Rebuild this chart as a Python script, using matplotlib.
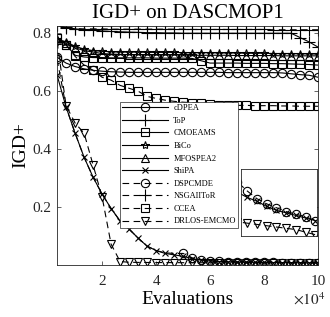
import numpy as np
import matplotlib
matplotlib.use('Agg')
import matplotlib.pyplot as plt

# Evaluations (x 10^4), 30 samples
evals = np.arange(1, 31) / 3.0

cdpea = [0.717, 0.697, 0.685, 0.677, 0.672, 0.669, 0.667, 0.666, 0.665, 0.665,
         0.665, 0.665, 0.665, 0.665, 0.665, 0.665, 0.665, 0.665, 0.665, 0.664,
         0.664, 0.664, 0.664, 0.664, 0.664, 0.663, 0.660, 0.657, 0.655, 0.648]
top = [0.828, 0.820, 0.815, 0.812, 0.810, 0.808, 0.806, 0.805, 0.804, 0.803,
       0.802, 0.802, 0.801, 0.801, 0.800, 0.800, 0.800, 0.800, 0.800, 0.800,
       0.800, 0.800, 0.800, 0.800, 0.800, 0.800, 0.800, 0.785, 0.770, 0.752]
cmoeams = [0.785, 0.760, 0.724, 0.718, 0.716, 0.716, 0.715, 0.715, 0.715, 0.715,
           0.715, 0.714, 0.714, 0.714, 0.714, 0.713, 0.705, 0.697, 0.697, 0.697,
           0.697, 0.696, 0.696, 0.696, 0.695, 0.695, 0.694, 0.693, 0.692, 0.690]
bico = [0.780, 0.770, 0.755, 0.745, 0.740, 0.738, 0.736, 0.735, 0.735, 0.735,
        0.734, 0.734, 0.734, 0.734, 0.733, 0.733, 0.733, 0.733, 0.732, 0.732,
        0.732, 0.731, 0.731, 0.731, 0.730, 0.730, 0.730, 0.729, 0.729, 0.728]
mfospea2 = [0.775, 0.765, 0.750, 0.740, 0.735, 0.730, 0.728, 0.727, 0.726, 0.726,
            0.725, 0.725, 0.725, 0.725, 0.725, 0.724, 0.724, 0.724, 0.724, 0.724,
            0.723, 0.723, 0.723, 0.723, 0.723, 0.722, 0.722, 0.722, 0.722, 0.722]
shipa = [0.655, 0.545, 0.455, 0.372, 0.303, 0.245, 0.195, 0.152, 0.124, 0.093,
         0.065, 0.050, 0.040, 0.035, 0.030, 0.022, 0.017, 0.014, 0.012, 0.011,
         0.0102, 0.0097, 0.0093, 0.0090, 0.0086, 0.0083, 0.0081, 0.0079, 0.0077, 0.0075]
dspcmde = [0.710, 0.545, 0.455, 0.372, 0.303, 0.245, 0.195, 0.152, 0.124, 0.093,
           0.065, 0.050, 0.042, 0.040, 0.040, 0.025, 0.018, 0.015, 0.013, 0.012,
           0.0110, 0.0105, 0.0098, 0.0092, 0.0088, 0.0085, 0.0082, 0.0080, 0.0078, 0.0075]
nsgaiitor = [0.828, 0.818, 0.816, 0.815, 0.815, 0.815, 0.814, 0.814, 0.814, 0.814,
             0.814, 0.814, 0.814, 0.814, 0.814, 0.813, 0.813, 0.813, 0.813, 0.813,
             0.813, 0.813, 0.813, 0.813, 0.812, 0.812, 0.812, 0.812, 0.812, 0.812]
ccea = [0.785, 0.760, 0.720, 0.690, 0.672, 0.648, 0.638, 0.620, 0.610, 0.600,
        0.582, 0.575, 0.569, 0.565, 0.562, 0.560, 0.559, 0.556, 0.553, 0.552,
        0.551, 0.551, 0.550, 0.550, 0.550, 0.549, 0.549, 0.548, 0.548, 0.548]
drlos = [0.770, 0.550, 0.490, 0.455, 0.345, 0.235, 0.072, 0.012, 0.0095, 0.0090,
         0.0088, 0.0086, 0.0084, 0.0082, 0.0080, 0.0079, 0.0078, 0.0077, 0.0076, 0.0075,
         0.0075, 0.0074, 0.0073, 0.0072, 0.0071, 0.0070, 0.0069, 0.0068, 0.0066, 0.0064]

series = [cdpea, top, cmoeams, bico, mfospea2, shipa, dspcmde, nsgaiitor, ccea, drlos]
labels = ['cDPEA', 'ToP', 'CMOEAMS', 'BiCo', 'MFOSPEA2', 'ShiPA',
          'DSPCMDE', 'NSGAIIToR', 'CCEA', 'DRLOS-EMCMO']
markers = ['o', '+', 's', '*', '^', 'x', 'o', '+', 's', 'v']
styles = ['-'] * 6 + [(0, (6, 4))] * 4
mevery = [None] * 6 + [[0] + list(range(14, 30)), None, None, None]
msizes = [6, 8, 6, 6, 6, 5, 6, 8, 6, 6]

plt.rcParams['font.family'] = ['Liberation Serif', 'DejaVu Serif']
plt.rcParams['mathtext.fontset'] = 'stix'

fig = plt.figure(figsize=(3.3, 3.17), dpi=100)
ax = fig.add_axes([0.173, 0.164, 0.791, 0.754])

for y, lab, m, ls, me, ms in zip(series, labels, markers, styles, mevery, msizes):
    ax.plot(evals, y, color='k', linestyle=ls, linewidth=0.8, marker=m,
            markersize=ms, markerfacecolor='none', markeredgewidth=0.8,
            markevery=me, label=lab)

ax.set_xlim(1 / 3, 10)
ax.set_ylim(0, 0.825)
ax.set_xticks([2, 4, 6, 8, 10])
ax.set_yticks([0.2, 0.4, 0.6, 0.8])
ax.set_yticklabels(['0.2', '0.4', '0.6', '0.8'])
ax.tick_params(direction='in', top=True, right=True, length=3, width=0.5,
               labelsize=11, colors='#262626', pad=4)
ax.tick_params(axis='x', pad=7)
for s in ax.spines.values():
    s.set_linewidth(0.6)
    s.set_color('#262626')
ax.set_title('IGD+ on DASCMOP1', fontsize=15, pad=6)
ax.set_xlabel('Evaluations', fontsize=14, labelpad=2)
ax.set_ylabel('IGD+', fontsize=14, labelpad=2)
fig.text(0.985, 0.03, r'$\times 10^{4}$', ha='right', va='bottom', fontsize=11,
         color='#262626')

leg = ax.legend(loc='lower left', bbox_to_anchor=(0.241, 0.155, 0.452, 0.506),
                mode='expand', fontsize=6, handlelength=5.5, frameon=True,
                fancybox=False, edgecolor='#262626', borderpad=0.3,
                labelspacing=0.55, handletextpad=0.6, borderaxespad=0,
                framealpha=1)
leg.get_frame().set_linewidth(0.5)

# zoomed inset of the converged tails
axin = fig.add_axes([0.730, 0.2555, 0.230, 0.211])
for y, lab, m, ls, ms in zip(series, labels, markers, styles, msizes):
    axin.plot(evals, y, color='k', linestyle=ls, linewidth=0.8, marker=m,
              markersize=ms, markerfacecolor='none', markeredgewidth=0.8)
axin.set_xlim(7.45, 10.05)
axin.set_ylim(0.0063, 0.0115)
axin.set_xticks([])
axin.set_yticks([])
for s in axin.spines.values():
    s.set_linewidth(0.6)
    s.set_color('#262626')

fig.savefig('out.png', dpi=100)
